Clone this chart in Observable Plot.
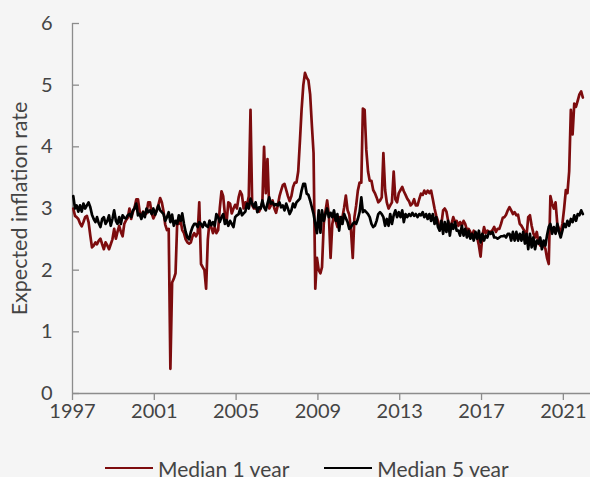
<!DOCTYPE html>
<html>
<head>
<meta charset="utf-8">
<script src="https://cdn.jsdelivr.net/npm/d3@7"></script>
<script src="https://cdn.jsdelivr.net/npm/@observablehq/plot@0.6"></script>
<style>
  html, body { margin: 0; padding: 0; background: #f5f5f5; }
  body { width: 590px; height: 477px; overflow: hidden; font-family: Lato, sans-serif; }
  #legend { display: flex; align-items: center; height: 24px; margin-top: 26px; padding-left: 105px; font-size: 21px; color: #444; white-space: nowrap; }
  .item { display: flex; align-items: center; margin-right: 35px; }
  .sw { width: 48px; height: 0; border-top: 2.8px solid; margin-right: 5px; }
</style>
</head>
<body>
<div id="chart"></div>
<div id="legend"></div>
<script>
const startYear = 1997;
const seriesNames = ["Median 1 year", "Median 5 year"];
const seriesColors = ["#7d0c0e", "#000000"];
const xTickYears = [1997, 2001, 2005, 2009, 2013, 2017, 2021];
const yTicks = [0, 1, 2, 3, 4, 5, 6];
const yLabel = "Expected inflation rate";

// Monthly values, January 1997 to December 2021
const median1y = [
  3.0, 2.88, 2.86, 2.83, 2.76, 2.71, 2.78, 2.86, 2.88, 2.78, 2.56, 2.37,
  2.4, 2.45, 2.42, 2.48, 2.51, 2.42, 2.34, 2.45, 2.4, 2.34, 2.42, 2.5,
  2.67, 2.51, 2.62, 2.72, 2.62, 2.55, 2.75, 2.81, 2.85, 3.0, 2.83, 2.94,
  3.02, 3.15, 3.15, 2.95, 2.85, 2.95, 2.9, 2.92, 3.1, 3.1, 2.92, 2.84,
  2.9, 2.98, 3.06, 3.17, 3.1, 2.95, 2.74, 2.65, 2.67, 0.4, 1.8, 1.86,
  1.95, 2.8, 2.75, 2.8, 2.65, 2.6, 2.5, 2.45, 2.43, 2.45, 2.55, 2.6,
  2.55, 2.6, 3.1, 2.1, 2.05, 2.0, 1.7, 2.5, 2.8, 2.7, 2.6, 2.7,
  2.6, 2.65, 3.0, 3.28, 3.2, 2.9, 2.78, 3.1, 3.08, 2.92, 3.0, 3.06,
  3.0, 3.18, 3.28, 3.22, 3.0, 3.1, 3.05, 3.2, 4.6, 3.05, 3.0, 3.0,
  3.0, 2.95, 3.0, 3.1, 4.0, 3.25, 3.8, 3.0, 3.05, 3.13, 3.0, 2.93,
  3.05, 3.2, 3.29, 3.38, 3.4, 3.3, 3.2, 3.12, 3.2, 3.35, 3.42, 3.42,
  3.6, 4.1, 4.6, 5.0, 5.2, 5.12, 5.08, 4.85, 4.35, 3.9, 1.7, 2.2,
  2.0, 1.95, 2.05, 2.75, 2.95, 3.13, 2.9, 2.2, 2.75, 2.9, 2.8, 2.7,
  2.86, 2.8, 2.86, 3.02, 3.21, 2.97, 2.9, 2.64, 2.2, 2.86, 3.05, 3.29,
  3.42, 3.42, 4.62, 4.6, 3.95, 3.6, 3.45, 3.45, 3.3, 3.25, 3.18, 3.1,
  3.13, 3.18, 3.9, 3.3, 3.1, 3.0, 3.05, 3.1, 3.6, 3.15, 3.1, 3.25,
  3.3, 3.35, 3.28, 3.22, 3.16, 3.12, 3.05, 3.08, 3.15, 3.05, 3.05, 3.15,
  3.24, 3.22, 3.29, 3.24, 3.29, 3.25, 3.29, 3.15, 3.0, 2.88, 2.8, 2.65,
  2.75, 2.97, 3.0, 2.95, 2.8, 2.7, 2.75, 2.86, 2.78, 2.8, 2.72, 2.78,
  2.72, 2.8, 2.75, 2.65, 2.67, 2.62, 2.55, 2.64, 2.58, 2.53, 2.4, 2.22,
  2.55, 2.7, 2.6, 2.64, 2.62, 2.62, 2.65, 2.7, 2.62, 2.67, 2.67, 2.75,
  2.85, 2.86, 2.9, 2.97, 3.02, 2.97, 2.91, 2.94, 2.89, 2.9, 2.75, 2.72,
  2.67, 2.62, 2.55, 2.86, 2.89, 2.72, 2.6, 2.53, 2.62, 2.45, 2.4, 2.45,
  2.4, 2.35, 2.2, 2.1, 3.2, 3.08, 3.0, 3.1, 2.75, 2.67, 2.62, 2.75,
  3.0, 3.3, 3.25, 3.6, 4.6, 4.2, 4.7, 4.65, 4.75, 4.85, 4.9, 4.8
];

const median5y = [
  3.2, 3.0, 3.05, 2.95, 3.05, 2.95, 3.08, 3.0, 3.05, 3.1, 3.02, 2.9,
  2.83, 2.78, 2.86, 2.76, 2.7, 2.83, 2.86, 2.75, 2.8, 2.89, 2.72, 2.83,
  2.97, 2.8, 2.75, 2.86, 2.75, 2.89, 2.85, 2.84, 2.89, 2.91, 2.86, 2.97,
  3.0, 3.08, 2.89, 2.91, 2.83, 2.94, 2.86, 3.0, 2.94, 2.97, 2.91, 3.0,
  2.9, 2.97, 3.05, 2.97, 2.94, 2.91, 2.8, 2.86, 2.94, 2.78, 2.9, 2.72,
  2.8, 2.75, 2.89, 2.8, 2.92, 2.75, 2.62, 2.53, 2.5, 2.62, 2.7, 2.75,
  2.75, 2.7, 2.78, 2.75, 2.7, 2.78, 2.72, 2.7, 2.8, 2.73, 2.78, 2.72,
  2.91, 2.86, 2.78, 2.86, 2.91, 2.75, 2.81, 2.72, 2.8, 2.75, 2.7, 2.86,
  2.89, 2.91, 3.0, 2.89, 2.92, 2.95, 3.08, 3.0, 3.16, 3.08, 3.02, 3.1,
  2.94, 3.02, 3.0, 3.13, 3.02, 2.97, 3.08, 3.18, 3.08, 3.1, 3.05, 3.07,
  3.05, 3.1, 3.02, 3.05, 2.97, 3.08, 3.0, 2.91, 2.97, 3.08, 3.02, 3.1,
  3.13, 3.16, 3.29, 3.4, 3.4, 3.24, 3.22, 3.13, 3.02, 2.91, 2.75, 2.6,
  2.97, 2.61, 2.97, 2.8, 2.91, 3.0, 2.86, 2.93, 2.86, 2.97, 2.8, 2.91,
  2.64, 2.86, 2.75, 2.91, 2.84, 2.78, 2.67, 2.7, 2.75, 2.78, 2.75, 2.83,
  2.94, 3.18, 2.94, 2.97, 2.94, 2.91, 2.86, 2.75, 2.7, 2.72, 2.8, 2.91,
  2.94, 2.91, 2.86, 2.72, 2.83, 2.72, 2.91, 2.75, 2.89, 2.97, 2.86, 2.94,
  2.86, 2.97, 2.78, 2.91, 2.86, 2.91, 2.88, 2.93, 2.88, 2.91, 2.86, 2.91,
  2.89, 2.94, 2.86, 2.91, 2.83, 2.91, 2.8, 2.91, 2.75, 2.86, 2.7, 2.64,
  2.8, 2.59, 2.78, 2.62, 2.8, 2.56, 2.75, 2.67, 2.78, 2.64, 2.64, 2.56,
  2.72, 2.56, 2.67, 2.53, 2.64, 2.51, 2.59, 2.48, 2.62, 2.51, 2.64, 2.45,
  2.59, 2.48, 2.56, 2.53, 2.62, 2.59, 2.62, 2.53, 2.53, 2.51, 2.53, 2.55,
  2.55, 2.56, 2.53, 2.59, 2.59, 2.48, 2.62, 2.48, 2.62, 2.48, 2.59, 2.48,
  2.62, 2.43, 2.59, 2.34, 2.59, 2.37, 2.53, 2.34, 2.48, 2.43, 2.53, 2.34,
  2.48, 2.4, 2.56, 2.7, 2.75, 2.59, 2.7, 2.59, 2.75, 2.62, 2.53, 2.64,
  2.75, 2.7, 2.8, 2.72, 2.83, 2.78, 2.89, 2.8, 2.91, 2.89, 2.97, 2.91
];

const monthDate = (i) => new Date(Date.UTC(startYear, i, 15));
const rows1 = median1y.map((v, i) => ({date: monthDate(i), value: v, series: seriesNames[0]}));
const rows5 = median5y.map((v, i) => ({date: monthDate(i), value: v, series: seriesNames[1]}));
const xTicks = xTickYears.map((y) => new Date(Date.UTC(y, 0, 1)));
const xDomain = [new Date(Date.UTC(1997, 0, 1)), new Date(Date.UTC(2022, 4, 1))];
const axisColor = "#8c8c8c";
const textColor = "#444";
const W = 590, ML = 72, MR = 0, TICK = 7;

const chart = Plot.plot({
  width: W,
  height: 430,
  marginLeft: ML,
  marginRight: MR,
  marginTop: 23,
  marginBottom: 37,
  style: {background: "#f5f5f5", fontFamily: "Lato, sans-serif", fontSize: "20px", color: textColor},
  x: {type: "utc", domain: xDomain},
  y: {domain: [0, 6]},
  marks: [
    Plot.ruleY([0], {stroke: axisColor, strokeWidth: 1.3}),
    Plot.ruleX([xDomain[0]], {stroke: axisColor, strokeWidth: 1.3}),
    Plot.tickY(yTicks, {y: (d) => d, insetRight: W - ML - MR - TICK, stroke: axisColor, strokeWidth: 1.3}),
    Plot.axisY(yTicks, {tickSize: 0, tickPadding: 20, tickFormat: (d) => String(d), label: null, fill: textColor}),
    Plot.axisX(xTicks, {tickSize: TICK, tickPadding: 3, tickFormat: (d) => String(d.getUTCFullYear()), label: null, stroke: axisColor, strokeWidth: 1.3, fill: textColor}),
    Plot.text([yLabel], {frameAnchor: "left", textAnchor: "middle", rotate: -90, dx: -52, fontSize: 21.5, fill: textColor}),
    Plot.line(rows1, {x: "date", y: "value", stroke: seriesColors[0], strokeWidth: 2.7}),
    Plot.line(rows5, {x: "date", y: "value", stroke: seriesColors[1], strokeWidth: 2.7})
  ]
});
document.getElementById("chart").appendChild(chart);

const legend = document.getElementById("legend");
seriesNames.forEach((name, i) => {
  const item = document.createElement("div");
  item.className = "item";
  const sw = document.createElement("div");
  sw.className = "sw";
  sw.style.borderTopColor = seriesColors[i];
  const label = document.createElement("span");
  label.textContent = name;
  item.appendChild(sw);
  item.appendChild(label);
  legend.appendChild(item);
});
</script>
</body>
</html>
